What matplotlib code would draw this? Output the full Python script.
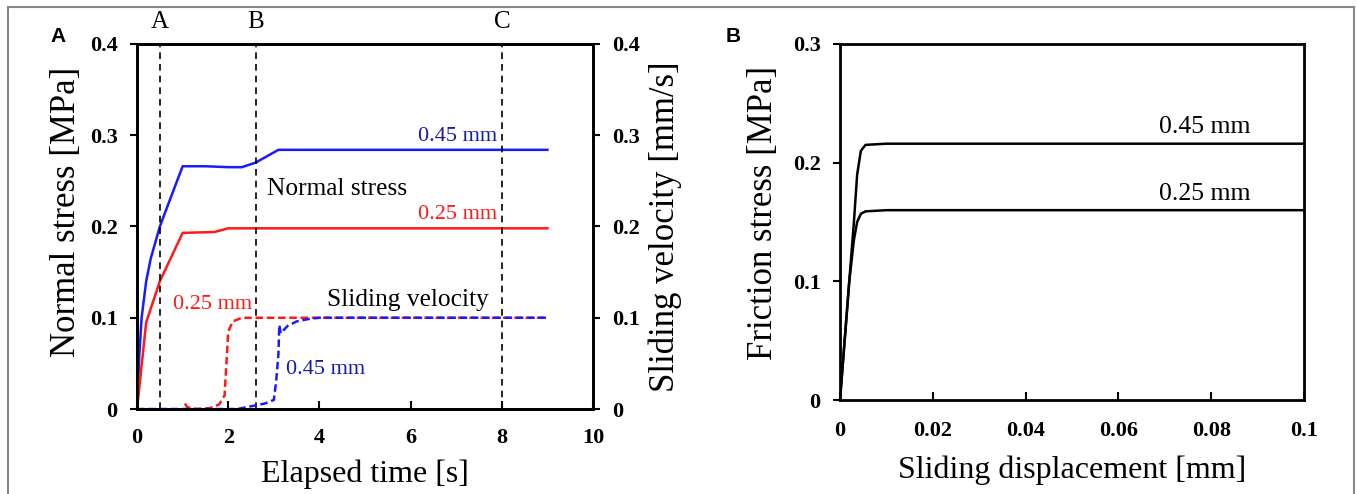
import matplotlib
matplotlib.use("Agg")
import matplotlib.pyplot as plt
from matplotlib.lines import Line2D

# ---------------- Data ----------------
# Panel A: normal stress (MPa) vs elapsed time (s)
t_ns45 = [0, 0.05, 0.1, 0.2, 0.3, 0.5, 0.65, 1.0, 1.5, 2.0, 2.3, 2.6, 3.1, 9.0]
ns45 = [0, 0.06, 0.10, 0.14, 0.165, 0.20, 0.22, 0.266, 0.266, 0.265, 0.265, 0.270, 0.284, 0.284]
t_ns25 = [0, 0.2, 0.5, 1.0, 1.7, 2.0, 9.0]
ns25 = [0, 0.095, 0.14, 0.193, 0.194, 0.198, 0.198]

# Panel A: sliding velocity (mm/s) vs elapsed time (s)
t_v25 = [1.05, 1.1, 1.3, 1.6, 1.8, 1.92, 1.96, 2.0, 2.1, 2.3, 9.0]
v25 = [0.006, 0.002, 0.0, 0.001, 0.005, 0.015, 0.05, 0.085, 0.096, 0.1, 0.1]
t_v45 = [0, 2.2, 2.5, 2.8, 3.0, 3.05, 3.1, 3.12, 3.15, 3.3, 3.5, 3.8, 4.0, 9.0]
v45 = [0, 0, 0.003, 0.006, 0.01, 0.03, 0.06, 0.092, 0.083, 0.091, 0.096, 0.099, 0.1, 0.1]

# Event markers
event_labels = ["A", "B", "C"]
event_times = [0.5, 2.6, 8.0]

# Panel B: friction stress (MPa) vs sliding displacement (mm)
d45 = [0, 0.002, 0.003, 0.0037, 0.0045, 0.0055, 0.01, 0.1]
f45 = [0, 0.10, 0.15, 0.19, 0.21, 0.215, 0.216, 0.216]
d25 = [0, 0.002, 0.003, 0.0037, 0.0045, 0.0055, 0.01, 0.1]
f25 = [0, 0.10, 0.135, 0.150, 0.157, 0.159, 0.160, 0.160]

# ---------------- Style ----------------
SERIF = "Liberation Serif"
SANS = "Liberation Sans"
BLUE = "#1a1aff"
RED = "#ff1a1a"
DBLUE = "#1a1aaa"

fig = plt.figure(figsize=(13.57, 4.94), dpi=100)

# figure frame (grey)
for xs, ys in [([0.006, 0.006], [0, 0.985]), ([0.006, 0.998], [0.985, 0.985]), ([0.998, 0.998], [0, 0.985])]:
    fig.add_artist(Line2D(xs, ys, transform=fig.transFigure, color="#888888", lw=1.5))

tick_font = dict(family=SERIF, weight="bold", size=16)
xlabel_font = dict(family=SERIF, size=23)
ylabel_font = dict(family=SERIF, size=25)
small = dict(family=SERIF, size=16)
big = dict(family=SERIF, size=18.3)

# ---------------- Panel A ----------------
ax = fig.add_axes([0.101, 0.172, 0.336, 0.739])
ax.plot(t_ns45, ns45, color=BLUE, lw=1.8)
ax.plot(t_ns25, ns25, color=RED, lw=1.8)
ax2 = ax.twinx()
ax2.plot(t_v25, v25, color=RED, lw=1.8, ls=(0, (3, 1.5)))
ax2.plot(t_v45, v45, color=BLUE, lw=1.8, ls=(0, (3, 1.5)))
for t in event_times:
    ax.axvline(t, color="black", lw=1.2, ls=(0, (4, 3)))
for lab, t in zip(event_labels, event_times):
    ax.text(t, 0.412, lab, ha="center", va="bottom", family=SERIF, size=18)

ax.set_xlim(0, 10)
ax.set_ylim(0, 0.4)
ax2.set_ylim(0, 0.4)
ax.set_xticks([0, 2, 4, 6, 8, 10])
ax.set_yticks([0, 0.1, 0.2, 0.3, 0.4])
ax2.set_yticks([0, 0.1, 0.2, 0.3, 0.4])
ax.set_xticklabels(["0", "2", "4", "6", "8", "10"], fontdict=tick_font)
ax.set_yticklabels(["0", "0.1", "0.2", "0.3", "0.4"], fontdict=tick_font)
ax2.set_yticklabels(["0", "0.1", "0.2", "0.3", "0.4"], fontdict=tick_font)
ax.tick_params(axis="x", direction="in", length=6, width=1.5, pad=14)
ax.tick_params(axis="y", direction="out", length=5, width=1.5, pad=9)
ax2.tick_params(axis="y", direction="out", length=5, width=1.5, pad=9)
for a in (ax, ax2):
    for s in a.spines.values():
        s.set_linewidth(2)
ax.set_xlabel("Elapsed time [s]", fontdict=xlabel_font, va="center")
ax.xaxis.set_label_coords(0.5, -0.178)
ax.set_ylabel("Normal stress [MPa]", fontdict=ylabel_font, va="center")
ax.yaxis.set_label_coords(-0.155, 0.54)
ax2.set_ylabel("Sliding velocity [mm/s]", fontdict=ylabel_font, va="center")
ax2.yaxis.set_label_coords(1.158, 0.50)

ax.text(7.9, 0.299, "0.45 mm", color=DBLUE, ha="right", va="center", **small)
ax.text(2.85, 0.241, "Normal stress", color="black", ha="left", va="center", **big)
ax.text(7.9, 0.213, "0.25 mm", color=RED, ha="right", va="center", **small)
ax.text(4.17, 0.120, "Sliding velocity", color="black", ha="left", va="center", **big)
ax.text(0.79, 0.114, "0.25 mm", color=RED, ha="left", va="center", **small)
ax.text(3.27, 0.043, "0.45 mm", color=DBLUE, ha="left", va="center", **small)

fig.text(58 / 1357, 1 - 36 / 494, "A", family=SANS, weight="bold", size=15, ha="center", va="center")

# ---------------- Panel B ----------------
bx = fig.add_axes([0.619, 0.190, 0.342, 0.721])
bx.plot(d45, f45, color="black", lw=1.8)
bx.plot(d25, f25, color="black", lw=1.8)
bx.set_xlim(0, 0.1)
bx.set_ylim(0, 0.3)
bx.set_xticks([0, 0.02, 0.04, 0.06, 0.08, 0.1])
bx.set_yticks([0, 0.1, 0.2, 0.3])
bx.set_xticklabels(["0", "0.02", "0.04", "0.06", "0.08", "0.1"], fontdict=tick_font)
bx.set_yticklabels(["0", "0.1", "0.2", "0.3"], fontdict=tick_font)
bx.tick_params(axis="x", direction="in", length=6, width=1.5, pad=15)
bx.tick_params(axis="y", direction="out", length=5, width=1.5, pad=9)
for s in bx.spines.values():
    s.set_linewidth(2)
bx.set_xlabel("Sliding displacement [mm]", fontdict=xlabel_font, va="center")
bx.xaxis.set_label_coords(0.5, -0.197)
bx.set_ylabel("Friction stress [MPa]", fontdict=ylabel_font, va="center")
bx.yaxis.set_label_coords(-0.165, 0.525)
bx.text(0.0885, 0.230, "0.45 mm", ha="right", va="center", family=SERIF, size=18.5)
bx.text(0.0885, 0.174, "0.25 mm", ha="right", va="center", family=SERIF, size=18.5)

fig.text(733 / 1357, 1 - 36 / 494, "B", family=SANS, weight="bold", size=15, ha="center", va="center")

fig.savefig("out.png", dpi=100)
